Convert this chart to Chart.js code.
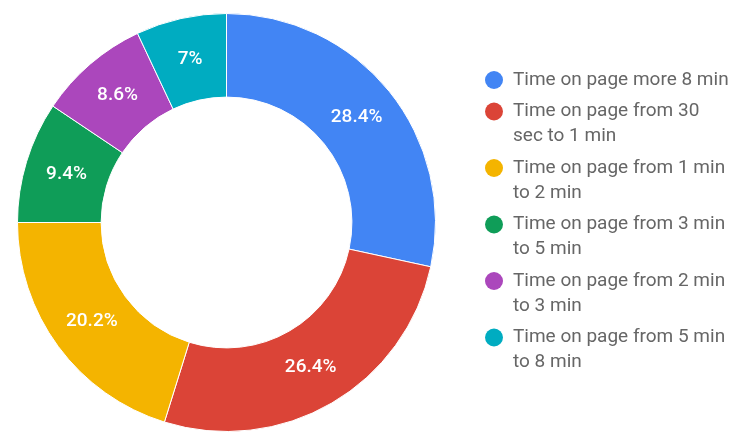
<!DOCTYPE html>
<html>
<head>
<meta charset="utf-8">
<script src="https://cdn.jsdelivr.net/npm/chart.js@4"></script>
<style>
html,body{margin:0;padding:0;background:#fff;}
#wrap{width:737px;height:432px;position:relative;}
</style>
</head>
<body>
<div id="wrap"><canvas id="c" width="737" height="432"></canvas></div>
<script>
const categories = [
  "Time on page more 8 min",
  "Time on page from 30 sec to 1 min",
  "Time on page from 1 min to 2 min",
  "Time on page from 3 min to 5 min",
  "Time on page from 2 min to 3 min",
  "Time on page from 5 min to 8 min"
];
const legendLines = [
  ["Time on page more 8 min"],
  ["Time on page from 30", "sec to 1 min"],
  ["Time on page from 1 min", "to 2 min"],
  ["Time on page from 3 min", "to 5 min"],
  ["Time on page from 2 min", "to 3 min"],
  ["Time on page from 5 min", "to 8 min"]
];
const values = [28.4, 26.4, 20.2, 9.4, 8.6, 7.0];
const valueLabels = ["28.4%", "26.4%", "20.2%", "9.4%", "8.6%", "7%"];
const colors = ["#4285F4", "#DB4437", "#F4B400", "#0F9D58", "#AB47BC", "#00ACC1"];

const sliceLabels = {
  id: 'sliceLabels',
  afterDatasetsDraw(chart) {
    const ctx = chart.ctx;
    const meta = chart.getDatasetMeta(0);
    ctx.save();
    ctx.fillStyle = '#ffffff';
    ctx.font = '500 19px Roboto';
    ctx.textAlign = 'center';
    ctx.textBaseline = 'middle';
    meta.data.forEach((arc, i) => {
      const p = arc.getCenterPoint();
      ctx.fillText(valueLabels[i], p.x, p.y);
    });
    ctx.restore();
  }
};

const sideLegend = {
  id: 'sideLegend',
  afterDraw(chart) {
    const ctx = chart.ctx;
    ctx.save();
    const x0 = 494, textX = 513;
    let y = 80;
    const lineH = 25, gap = 31.5;
    ctx.font = '400 19px Roboto';
    ctx.textBaseline = 'middle';
    ctx.textAlign = 'left';
    legendLines.forEach((lines, i) => {
      ctx.fillStyle = colors[i];
      ctx.beginPath();
      ctx.arc(x0, y, 9, 0, Math.PI * 2);
      ctx.fill();
      ctx.fillStyle = '#666666';
      lines.forEach((t, j) => ctx.fillText(t, textX, y + j * lineH));
      y += (lines.length - 1) * lineH + gap;
    });
    ctx.restore();
  }
};

new Chart(document.getElementById('c'), {
  type: 'doughnut',
  data: {
    labels: categories,
    datasets: [{
      data: values,
      backgroundColor: colors,
      borderColor: '#ffffff',
      borderWidth: 1
    }]
  },
  options: {
    responsive: false,
    animation: false,
    cutout: '60%',
    layout: { padding: { left: 17, top: 13, bottom: 0, right: 301 } },
    plugins: {
      legend: { display: false },
      tooltip: { enabled: false }
    }
  },
  plugins: [sliceLabels, sideLegend]
});
</script>
</body>
</html>
